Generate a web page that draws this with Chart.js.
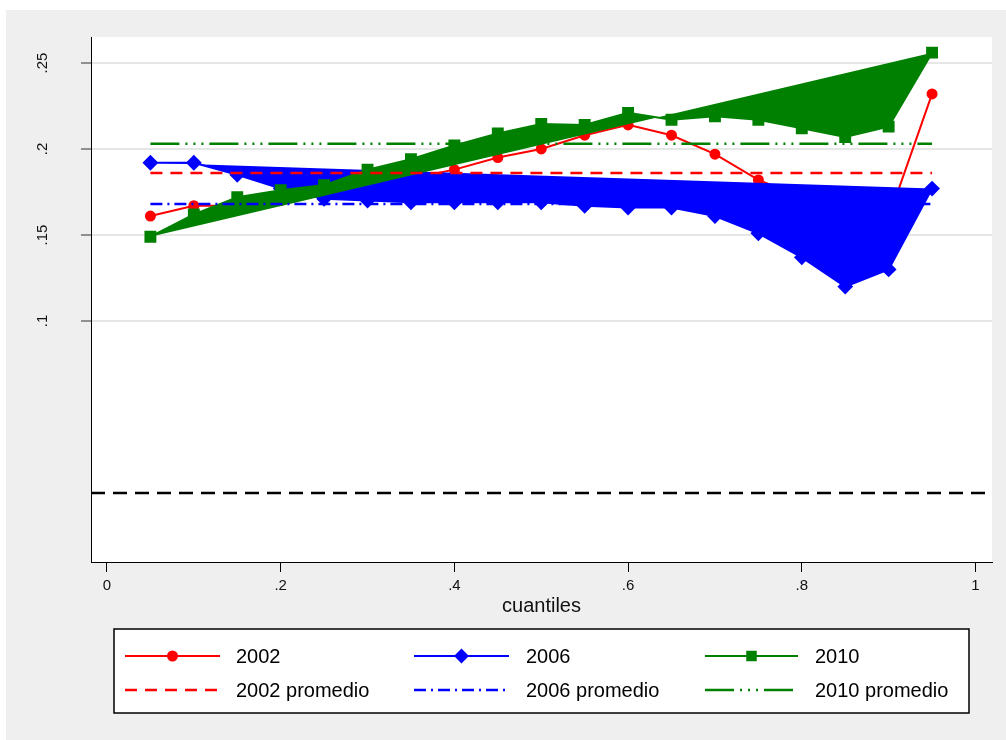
<!DOCTYPE html>
<html>
<head>
<meta charset="utf-8">
<script src="https://cdn.jsdelivr.net/npm/chart.js@4.4.1/dist/chart.umd.min.js"></script>
<style>
  html, body { margin: 0; padding: 0; background: #fff; }
  #wrap { width: 1006px; height: 740px; }
</style>
</head>
<body>
<div id="wrap"><canvas id="cuantilChart" width="1006" height="740"></canvas></div>
<script>
// datos
const quantiles = [0.05, 0.1, 0.15, 0.2, 0.25, 0.3, 0.35, 0.4, 0.45, 0.5,
  0.55, 0.6, 0.65, 0.7, 0.75, 0.8, 0.85, 0.9, 0.95];
const serie2002 = [0.161, 0.167, 0.167, 0.170, 0.173, 0.178, 0.183, 0.188, 0.195, 0.200,
  0.208, 0.214, 0.208, 0.197, 0.182, 0.172, 0.165, 0.160, 0.232];
const serie2006 = [0.192, 0.192, 0.185, 0.177, 0.171, 0.170, 0.169, 0.169, 0.169, 0.169,
  0.167, 0.166, 0.166, 0.161, 0.151, 0.137, 0.120, 0.130, 0.177];
const serie2010 = [0.149, 0.162, 0.172, 0.176, 0.179, 0.188, 0.194, 0.202, 0.209, 0.2145,
  0.214, 0.221, 0.217, 0.219, 0.217, 0.212, 0.207, 0.213, 0.256];
const promedio2002 = 0.186;
const promedio2006 = 0.168;
const promedio2010 = 0.203;
const lineaCero = 0;
const xTicks = [0, 0.2, 0.4, 0.6, 0.8, 1];
const yTicks = [0.1, 0.15, 0.2, 0.25];

const FONT = "'Liberation Sans', Arial, sans-serif";

function toPoints(ys) {
  return quantiles.map((q, i) => ({ x: q, y: ys[i] }));
}
function constante(v) {
  return quantiles.map((q) => ({ x: q, y: v }));
}
function etiqueta(v) {
  return String(v).replace(/^0\./, ".");
}

// fondo estilo stata
const fondo = {
  id: "fondo",
  beforeDraw(chart) {
    const { ctx, width, height, chartArea: a } = chart;
    ctx.save();
    ctx.fillStyle = "#fff";
    ctx.fillRect(0, 0, width, height);
    ctx.fillStyle = "#efefef";
    ctx.fillRect(6, 10, width - 6, height - 10);
    ctx.fillStyle = "#fff";
    ctx.fillRect(a.left, a.top, a.right - a.left, a.bottom - a.top);
    ctx.restore();
  },
  beforeDatasetsDraw(chart) {
    // linea punteada negra en cero
    const { ctx, chartArea: a } = chart;
    const y = chart.scales.y.getPixelForValue(lineaCero);
    ctx.save();
    ctx.strokeStyle = "#000";
    ctx.lineWidth = 2.5;
    ctx.setLineDash([14, 8]);
    ctx.beginPath();
    ctx.moveTo(a.left, y);
    ctx.lineTo(a.right, y);
    ctx.stroke();
    ctx.restore();
  },
  afterDraw(chart) {
    const { ctx } = chart;
    const ys = chart.scales.y;
    ctx.save();
    // etiquetas eje y verticales
    ctx.fillStyle = "#111";
    ctx.font = "15px " + FONT;
    ctx.textAlign = "center";
    ctx.textBaseline = "middle";
    ys.ticks.forEach((t) => {
      ctx.save();
      ctx.translate(43, ys.getPixelForValue(t.value));
      ctx.rotate(-Math.PI / 2);
      ctx.fillText(etiqueta(t.value), 0, 0);
      ctx.restore();
    });

    // leyenda
    ctx.fillStyle = "#fff";
    ctx.fillRect(114, 629, 855, 84);
    ctx.strokeStyle = "#000";
    ctx.lineWidth = 1.5;
    ctx.strokeRect(114, 629, 855, 84);

    const cols = [[125, 220, 236], [414, 509, 526], [705, 798, 815]];
    const rows = [656, 690];
    const legendRadius = [4.5, 6, 6];
    chart.data.datasets.forEach((ds, i) => {
      const c = cols[i % 3];
      const y = rows[Math.floor(i / 3)];
      ctx.strokeStyle = ds.borderColor;
      ctx.fillStyle = ds.borderColor;
      ctx.lineWidth = ds.borderWidth;
      ctx.setLineDash(ds.borderDash || []);
      ctx.beginPath();
      ctx.moveTo(c[0], y);
      ctx.lineTo(c[1], y);
      ctx.stroke();
      ctx.setLineDash([]);
      if (ds.pointRadius > 0) {
        Chart.helpers.drawPoint(ctx, {
          pointStyle: ds.pointStyle,
          radius: legendRadius[i],
          borderWidth: 1,
          rotation: 0,
        }, (c[0] + c[1]) / 2, y);
      }
      ctx.fillStyle = "#000";
      ctx.font = "20px " + FONT;
      ctx.textAlign = "left";
      ctx.textBaseline = "middle";
      ctx.fillText(ds.label, c[2], y + 1);
    });
    ctx.restore();
  },
};

const ctx = document.getElementById("cuantilChart").getContext("2d");
const cuantilChart = new Chart(ctx, {
  type: "line",
  data: {
    datasets: [
      {
        label: "2002",
        data: toPoints(serie2002),
        borderColor: "#ff0000",
        backgroundColor: "#ff0000",
        borderWidth: 2,
        pointStyle: "circle",
        pointRadius: 4.5,
        fill: false,
        order: 6,
      },
      {
        label: "2006",
        data: toPoints(serie2006),
        borderColor: "#0000ff",
        backgroundColor: "#0000ff",
        borderWidth: 2,
        pointStyle: "rectRot",
        pointRadius: 6.5,
        fill: "shape",
        order: 5,
      },
      {
        label: "2010",
        data: toPoints(serie2010),
        borderColor: "#008000",
        backgroundColor: "#008000",
        borderWidth: 2,
        pointStyle: "rect",
        pointRadius: 7,
        fill: "shape",
        order: 4,
      },
      {
        label: "2002 promedio",
        data: constante(promedio2002),
        borderColor: "#ff0000",
        borderWidth: 2.5,
        borderDash: [12, 8],
        pointRadius: 0,
        fill: false,
        order: 3,
      },
      {
        label: "2006 promedio",
        data: constante(promedio2006),
        borderColor: "#0000ff",
        borderWidth: 2.5,
        borderDash: [12, 5, 2, 5],
        pointRadius: 0,
        fill: false,
        order: 2,
      },
      {
        label: "2010 promedio",
        data: constante(promedio2010),
        borderColor: "#008000",
        borderWidth: 2.5,
        borderDash: [29, 6, 2, 6, 2, 6, 2, 6],
        pointRadius: 0,
        fill: false,
        order: 1,
      },
    ],
  },
  options: {
    responsive: false,
    animation: false,
    layout: { padding: { left: 0, top: 37, right: 14, bottom: 118 } },
    plugins: {
      legend: { display: false },
      tooltip: { enabled: false },
    },
    elements: { line: { tension: 0 } },
    scales: {
      x: {
        type: "linear",
        min: -0.0184,
        max: 1.019,
        afterBuildTicks: (s) => { s.ticks = xTicks.map((v) => ({ value: v })); },
        afterFit: (s) => { s.height = 60; },
        ticks: {
          autoSkip: false,
          maxRotation: 0,
          padding: 5,
          color: "#111",
          font: { family: FONT, size: 15 },
          callback: (v) => etiqueta(v),
        },
        grid: {
          drawOnChartArea: false,
          tickLength: 10,
          tickColor: "#000",
          tickWidth: 1,
        },
        border: { color: "#000", width: 1 },
        title: {
          display: true,
          text: "cuantiles",
          color: "#111",
          font: { family: FONT, size: 20 },
          padding: { top: 0 },
        },
      },
      y: {
        min: -0.0401,
        max: 0.2651,
        afterBuildTicks: (s) => { s.ticks = yTicks.map((v) => ({ value: v })); },
        afterFit: (s) => { s.width = 91; },
        ticks: { display: false },
        grid: {
          color: "#e6e6e6",
          lineWidth: 2,
          tickLength: 10,
          tickColor: "#333",
          tickWidth: 1,
        },
        border: { color: "#000", width: 1 },
      },
    },
  },
  plugins: [fondo],
});
</script>
</body>
</html>
